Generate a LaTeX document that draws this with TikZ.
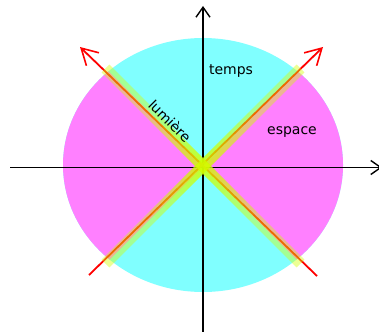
\documentclass[tikz,border=0pt]{standalone}
\usepackage{fontspec}
\setmainfont{DejaVu Sans}
\usetikzlibrary{arrows.meta,calc}
\definecolor{cyanreg}{RGB}{128,255,255}
\definecolor{magreg}{RGB}{255,128,255}
\definecolor{bandcol}{RGB}{212,255,0}
\definecolor{lightred}{RGB}{255,0,0}
\tikzset{
  axis/.style={line width=1.6pt, black, -{Straight Barb[length=10pt,width=14pt,line width=1.4pt]}},
  ray/.style={line width=1.8pt, lightred, -{Straight Barb[length=16pt,width=18pt,line width=1.6pt]}},
  lbl/.style={font=\fontsize{14}{16}\selectfont, inner sep=0pt},
  bandbase/.style={fill=bandcol, fill opacity=0.42},
  bandlayer/.style={fill=bandcol, fill opacity=0.13},
}
\begin{document}
\begin{tikzpicture}[x=1pt,y=-1pt]
\useasboundingbox (0,0) rectangle (379,331);
\coordinate (C) at (203,166);
\coordinate (E) at (203,165);
% sectors
\fill[cyanreg] (E) ellipse [x radius=140, y radius=127];
\begin{scope}
  \clip (E) ellipse [x radius=140, y radius=127];
  \fill[magreg] (C) -- ($(C)+(-300,-300)$) -- ($(C)+(-300,300)$) -- cycle;
  \fill[magreg] (C) -- ($(C)+(300,-300)$) -- ($(C)+(300,300)$) -- cycle;
\end{scope}
% axes
\coordinate (xl) at (10,167.5);
\coordinate (xr) at (382,167.5);
\coordinate (yb) at (203,335);
\coordinate (yt) at (203,6);
\draw[axis] (xl) -- (xr);
\draw[axis] (yb) -- (yt);
% light rays
\coordinate (ll) at (89,275);
\coordinate (ur) at (323,47);
\coordinate (lr) at (317,276);
\coordinate (ul) at (80,47);
\draw[ray] (ll) -- (ur);
\draw[ray] (lr) -- (ul);
% yellow bands (translucent, denser towards the centre)
\foreach \ang in {45,-45} {
  \begin{scope}[shift={(203,166)}, rotate=\ang]
    \fill[bandbase] (-138,-5.5) rectangle (138,5.5);
    \foreach \r in {6,12,18,26,34,44,56,70} {
      \fill[bandlayer] (-\r,-5.5) rectangle (\r,5.5);
    }
  \end{scope}
}
% labels
\node[lbl] (t) at (231,71) {temps};
\node[lbl] (e) at (292,132) {espace};
\node[lbl, rotate=-45] (l) at (170,121) {lumière};
\end{tikzpicture}
\end{document}
